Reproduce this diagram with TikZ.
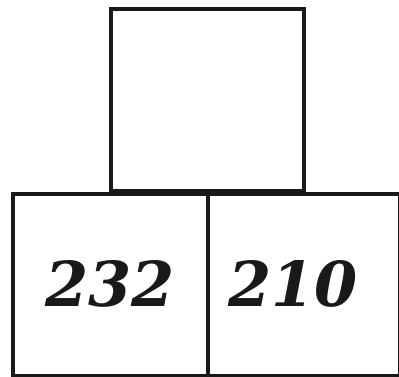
\documentclass[tikz,border=0pt]{standalone}
\usepackage{fontspec}
\newfontfamily\numfont{DejaVu Serif}
\begin{document}
\begin{tikzpicture}[x=1pt,y=-1pt,
  box/.style={draw=black!90, line width=4pt, inner sep=0pt, anchor=north west},
  num/.style={font=\numfont\fontsize{62}{62}\selectfont\bfseries\itshape, text=black!90}]
\useasboundingbox (0,0) rectangle (399,376);
\node[box, minimum width=193.5pt, minimum height=182pt] (top) at (108.5,7) {};
\node[box, minimum width=195pt, minimum height=182pt] (left) at (11,191.5) {};
\node[box, minimum width=192pt, minimum height=182pt] (right) at (206,191.5) {};
\node[num] (a) at (110,284) {232};
\node[num] (b) at (293,284) {210};
\end{tikzpicture}
\end{document}
